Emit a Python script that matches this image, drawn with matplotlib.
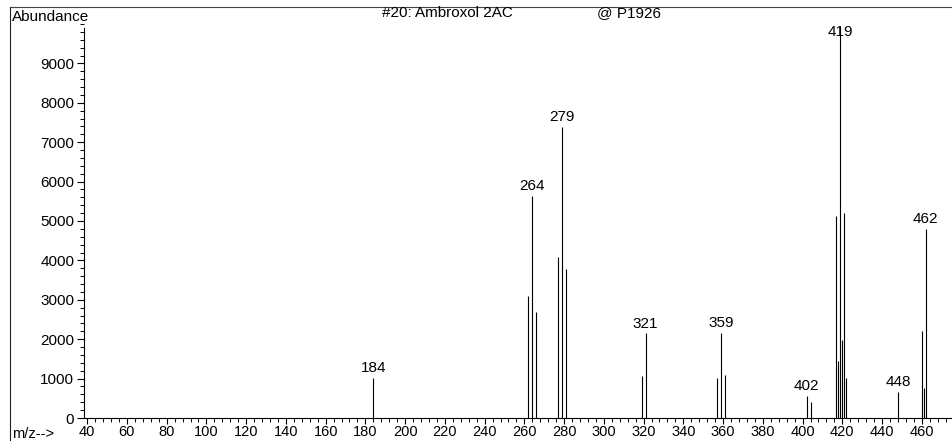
import matplotlib.pyplot as plt
from matplotlib.ticker import MultipleLocator
from matplotlib.lines import Line2D

plt.rcParams['font.family'] = ['Liberation Sans', 'DejaVu Sans']

# spectrum #20: Ambroxol 2AC
mz = [184, 262, 264, 266, 277, 279, 281, 319, 321, 357, 359, 361,
      402, 404, 417, 418, 419, 420, 421, 422, 448, 460, 461, 462]
abund = [1010, 3100, 5630, 2690, 4080, 7380, 3780, 1060, 2150, 1010, 2170, 1090,
         560, 410, 5120, 1450, 9960, 1980, 5200, 1020, 660, 2220, 770, 4790]
labeled = [184, 264, 279, 321, 359, 402, 419, 448, 462]

fs = 11

fig = plt.figure(figsize=(9.52, 4.41), dpi=100)
ax = fig.add_axes([84 / 952, 23 / 441, 868 / 952, 394 / 441])

ax.vlines(mz, 0, abund, color='black', lw=0.8)

for m, a in zip(mz, abund):
    if m in labeled:
        ax.annotate(str(m), (m, min(a, 9550)), xytext=(0, 2), textcoords='offset points',
                    ha='center', va='bottom', fontsize=fs)

ax.set_xlim(38.4, 475.2)
ax.set_ylim(0, 10000)
ax.xaxis.set_minor_locator(MultipleLocator(4))
ax.yaxis.set_minor_locator(MultipleLocator(200))
ax.tick_params(labelsize=fs, width=0.8, color='black')
ax.tick_params(which='major', length=5, pad=2)
ax.tick_params(axis='x', which='major', length=4, pad=1, labelsize=10.5)
ax.tick_params(which='minor', length=3, width=0.7)
ax.set_xticks(range(40, 461, 20))
ax.set_yticks(range(0, 9001, 1000))
for s in ['top', 'right']:
    ax.spines[s].set_visible(False)
ax.spines['left'].set_bounds(0, 9900)
ax.spines['left'].set_linewidth(0.8)
ax.spines['bottom'].set_linewidth(0.8)

# outer frame lines (top and left)
fig.add_artist(Line2D([10 / 952, 1], [1 - 7 / 441, 1 - 7 / 441], color='#444444', lw=0.8))
fig.add_artist(Line2D([10 / 952, 10 / 952], [0, 1 - 7 / 441], color='#222222', lw=0.8))

fig.text(12 / 952, 1 - 17 / 441, 'Abundance', fontsize=fs, va='center', ha='left')
fig.text(447 / 952, 1 - 13 / 441, '#20: Ambroxol 2AC', fontsize=fs, va='center', ha='center')
fig.text(597 / 952, 1 - 13 / 441, '@ P1926', fontsize=fs, va='center', ha='left')
fig.text(12 / 952, 1 - 434 / 441, 'm/z-->', fontsize=10.5, va='center', ha='left')

fig.savefig('out.png', dpi=100)
